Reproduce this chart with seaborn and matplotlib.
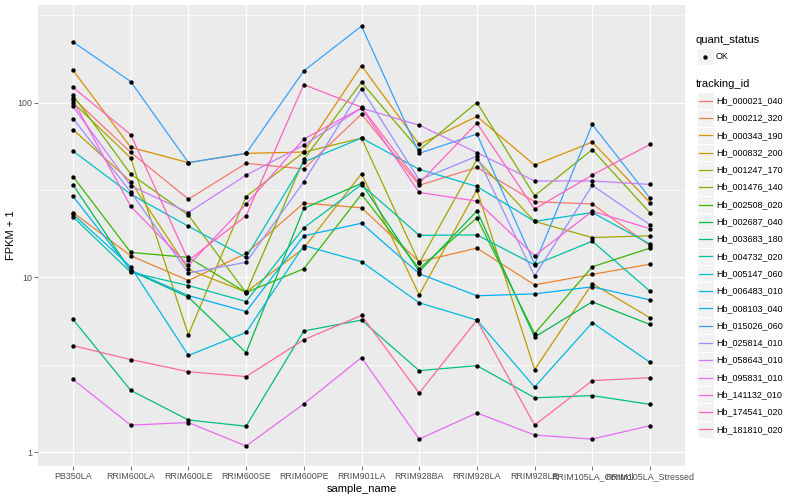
import matplotlib
matplotlib.use("Agg")
import matplotlib.pyplot as plt
import pandas as pd
import seaborn as sns
from matplotlib.ticker import FixedLocator, NullFormatter
from matplotlib.patches import Rectangle

# -----------------------------
# Data (FPKM + 1)
# -----------------------------
samples = ["PB350LA", "RRIM600LA", "RRIM600LE", "RRIM600SE", "RRIM600PE",
           "RRIM901LA", "RRIM928BA", "RRIM928LA", "RRIM928LE",
           "RRIM105LA_Control", "RRIM105LA_Stressed"]

tracking_ids = ["Hb_000021_040", "Hb_000212_320", "Hb_000343_190", "Hb_000832_200",
                "Hb_001247_170", "Hb_001476_140", "Hb_002508_020", "Hb_002687_040",
                "Hb_003683_180", "Hb_004732_020", "Hb_005147_060", "Hb_006483_010",
                "Hb_008103_040", "Hb_015026_060", "Hb_025814_010", "Hb_058643_010",
                "Hb_095831_010", "Hb_141132_010", "Hb_174541_020", "Hb_181810_020"]

hb_000021_040 = [106, 51.9, 28.0, 44.9, 41.7, 85.8, 33.6, 42.6, 27.1, 26.3, 15.2]
hb_000212_320 = [23.5, 13.3, 9.6, 13.7, 26.6, 25.0, 12.3, 14.7, 9.06, 10.4, 11.9]
hb_000343_190 = [153, 55.4, 45.3, 51.2, 52.1, 162.5, 57.6, 83.2, 43.9, 59.4, 26.8]
hb_000832_200 = [70, 35.3, 11.1, 8.24, 14.7, 39.2, 7.95, 31.7, 2.97, 9.22, 5.88]
hb_001247_170 = [100, 48.2, 4.70, 29.0, 52.0, 62.6, 12.1, 47.3, 20.9, 16.9, 17.3]
hb_001476_140 = [110, 39.0, 22.7, 8.16, 47.3, 130.5, 53.5, 100, 29.3, 53.8, 23.4]
hb_002508_020 = [37.7, 13.9, 13.0, 8.2, 11.2, 29.9, 11.2, 21.9, 4.77, 11.5, 14.7]
hb_002687_040 = [33.8, 10.9, 7.71, 3.71, 24.8, 34.5, 10.8, 24.0, 4.56, 7.25, 5.38]
hb_003683_180 = [5.75, 2.26, 1.53, 1.41, 4.94, 5.70, 2.93, 3.13, 2.05, 2.11, 1.88]
hb_004732_020 = [22.2, 10.7, 8.98, 7.28, 19.2, 33.9, 17.4, 17.5, 11.8, 16.1, 8.34]
hb_005147_060 = [52.8, 29.9, 19.6, 13.0, 45.7, 62.6, 41.5, 33.1, 20.9, 23.5, 15.5]
hb_006483_010 = [23.0, 11.5, 3.58, 4.85, 15.2, 12.3, 7.16, 5.70, 2.36, 5.51, 3.27]
hb_008103_040 = [29.1, 11.0, 7.87, 6.38, 17.3, 20.4, 10.5, 7.85, 8.05, 8.83, 7.44]
hb_015026_060 = [222, 131.8, 45.3, 51.2, 151.6, 273.5, 51.2, 66.0, 11.9, 74.9, 28.4]
hb_025814_010 = [81, 30.8, 10.6, 12.2, 35.2, 120, 36.1, 49.3, 10.2, 33.6, 20.0]
hb_058643_010 = [95, 33.4, 23.5, 38.4, 57.1, 92.8, 74.2, 51.7, 35.6, 35.6, 34.0]
hb_095831_010 = [2.61, 1.43, 1.48, 1.086, 1.89, 3.48, 1.19, 1.68, 1.255, 1.19, 1.42]
hb_141132_010 = [103, 25.5, 11.7, 26.2, 61.8, 93.0, 30.6, 27.3, 13.3, 23.9, 19.0]
hb_174541_020 = [122, 65.5, 12.5, 22.5, 126.6, 94.0, 34.5, 76.2, 24.6, 38.5, 57.6]
hb_181810_020 = [4.07, 3.39, 2.89, 2.71, 4.40, 6.06, 2.18, 5.70, 1.43, 2.57, 2.67]

series = [hb_000021_040, hb_000212_320, hb_000343_190, hb_000832_200, hb_001247_170,
          hb_001476_140, hb_002508_020, hb_002687_040, hb_003683_180, hb_004732_020,
          hb_005147_060, hb_006483_010, hb_008103_040, hb_015026_060, hb_025814_010,
          hb_058643_010, hb_095831_010, hb_141132_010, hb_174541_020, hb_181810_020]

# ggplot2 default hue palette for 20 levels
palette = ["#F8766D", "#EA8331", "#D89000", "#C09B00", "#A3A500", "#7CAE00", "#39B600",
           "#00BB4E", "#00BF7D", "#00C1A3", "#00BFC4", "#00BAE0", "#00B0F6", "#35A2FF",
           "#9590FF", "#C77CFF", "#E76BF3", "#FA62DB", "#FF62BC", "#FF6C91"]

rows = []
for tid, vals in zip(tracking_ids, series):
    for s, v in zip(samples, vals):
        rows.append({"sample_name": s, "tracking_id": tid, "fpkm1": v, "quant_status": "OK"})
df = pd.DataFrame(rows)

# -----------------------------
# Plot
# -----------------------------
plt.rcParams["font.family"] = ["Liberation Sans", "DejaVu Sans"]

fig = plt.figure(figsize=(8, 5), dpi=100)
ax = fig.add_axes([38.4 / 800, 34 / 500, 646.2 / 800, 461 / 500])
ax.set_facecolor("#EBEBEB")

sns.lineplot(data=df, x="sample_name", y="fpkm1", hue="tracking_id",
             hue_order=tracking_ids, palette=palette, sort=False, estimator=None,
             linewidth=0.9, legend=False, ax=ax, zorder=2)
sns.scatterplot(data=df, x="sample_name", y="fpkm1", color="black", s=10,
                linewidth=0, legend=False, ax=ax, zorder=3)

ax.set_yscale("log")
ax.set_ylim(0.835, 361)
ax.set_xlim(-0.6, len(samples) - 0.4)

ax.yaxis.set_major_locator(FixedLocator([1, 10, 100]))
ax.set_yticklabels(["1", "10", "100"])
ax.yaxis.set_minor_locator(FixedLocator([10 ** 0.5, 10 ** 1.5, 10 ** 2.5]))
ax.yaxis.set_minor_formatter(NullFormatter())

ax.grid(which="major", color="white", linewidth=0.9)
ax.grid(which="minor", axis="y", color="white", linewidth=0.45)
ax.set_axisbelow(True)
for sp in ax.spines.values():
    sp.set_visible(False)

ax.tick_params(which="major", length=2.7, width=0.5, color="#333333",
               labelcolor="#4D4D4D", labelsize=6.4, pad=1.5)
ax.tick_params(which="minor", length=0)

ax.set_xlabel("sample_name", fontsize=8, labelpad=2)
ax.set_ylabel("FPKM + 1", fontsize=8, labelpad=1)

# -----------------------------
# Legends (drawn in figure pixel coordinates)
# -----------------------------
lax = fig.add_axes([0, 0, 1, 1], facecolor="none")
lax.set_xlim(0, 800)
lax.set_ylim(500, 0)
lax.axis("off")

lax.text(696, 40, "quant_status", fontsize=8, va="center", ha="left")
lax.add_patch(Rectangle((697, 48.2), 16.5, 16.5, facecolor="#F2F2F2", edgecolor="white", lw=0.8))
lax.scatter([705.2], [56.5], s=10, color="black", linewidth=0)
lax.text(716, 56.5, "OK", fontsize=6.5, va="center", ha="left")

lax.text(696, 84.3, "tracking_id", fontsize=8, va="center", ha="left")
step = 17.3
for i, (tid, col) in enumerate(zip(tracking_ids, palette)):
    y = 100.7 + step * i
    lax.add_patch(Rectangle((697, y - step / 2), 16.5, step, facecolor="#F2F2F2",
                            edgecolor="white", lw=0.8))
    lax.plot([698.5, 711.5], [y, y], color=col, lw=0.9)
    lax.text(716, y, tid, fontsize=6.5, va="center", ha="left")

fig.savefig("out.png", dpi=100)
